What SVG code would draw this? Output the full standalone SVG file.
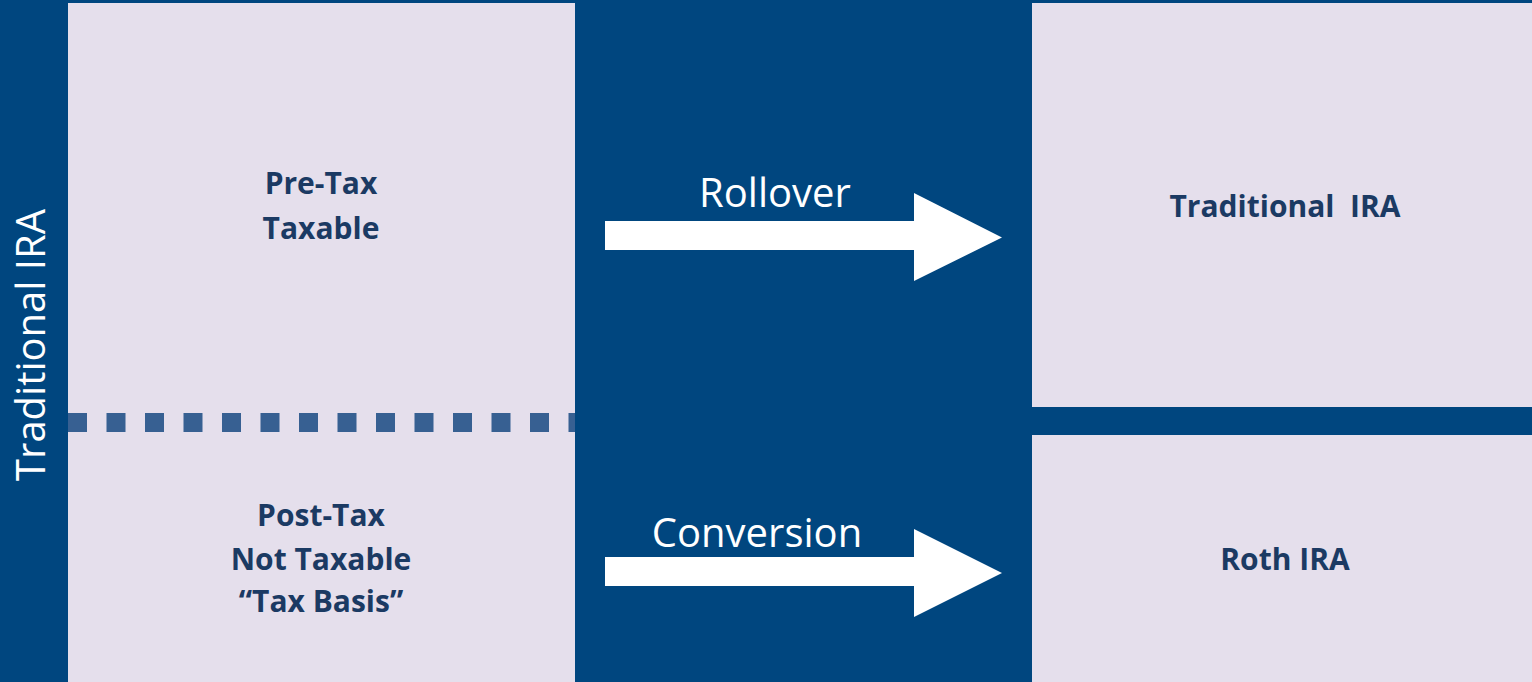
<svg xmlns="http://www.w3.org/2000/svg" width="1532" height="682" viewBox="0 0 1532 682">
  <style>
    .panel { fill: #e5dfec; }
    .label { font-family: "Open Sans", "Liberation Sans", sans-serif; font-weight: bold; font-size: 30px; fill: #1b3a63; text-anchor: middle; }
    .flow { font-family: "Open Sans", "Liberation Sans", sans-serif; font-size: 40px; fill: #ffffff; text-anchor: middle; }
    .arrow { fill: #ffffff; }
  </style>
  <!-- backdrop -->
  <rect x="0" y="0" width="1532" height="682" fill="#00467f"/>

  <!-- source account: Traditional IRA split into pre-tax and post-tax -->
  <g id="source">
    <rect class="panel" x="68" y="3" width="507" height="679"/>
    <line x1="68" y1="422.5" x2="575" y2="422.5" stroke="#376092" stroke-width="19" stroke-dasharray="19 19.5"/>
    <text class="flow" transform="translate(45 345) rotate(-90)">Traditional IRA</text>
    <text class="label" x="321" y="194">Pre-Tax</text>
    <text class="label" x="321" y="239">Taxable</text>
    <text class="label" x="321" y="526">Post-Tax</text>
    <text class="label" x="321" y="570">Not Taxable</text>
    <text class="label" x="321" y="612">“Tax Basis”</text>
  </g>

  <!-- destination accounts -->
  <g id="traditional-ira">
    <rect class="panel" x="1032" y="3" width="500" height="404"/>
    <text class="label" x="1285" y="217" xml:space="preserve">Traditional  IRA</text>
  </g>
  <g id="roth-ira">
    <rect class="panel" x="1032" y="435" width="500" height="247"/>
    <text class="label" x="1285" y="570">Roth IRA</text>
  </g>

  <!-- flows between accounts -->
  <g id="connectors">
    <g id="rollover">
      <polygon class="arrow" points="605,221 914,221 914,193 1002,237.5 914,281 914,250 605,250"/>
      <text class="flow" x="775" y="207">Rollover</text>
    </g>
    <g id="conversion">
      <polygon class="arrow" points="605,557 914,557 914,529 1002,573 914,617 914,586 605,586"/>
      <text class="flow" x="757" y="547">Conversion</text>
    </g>
  </g>
</svg>
